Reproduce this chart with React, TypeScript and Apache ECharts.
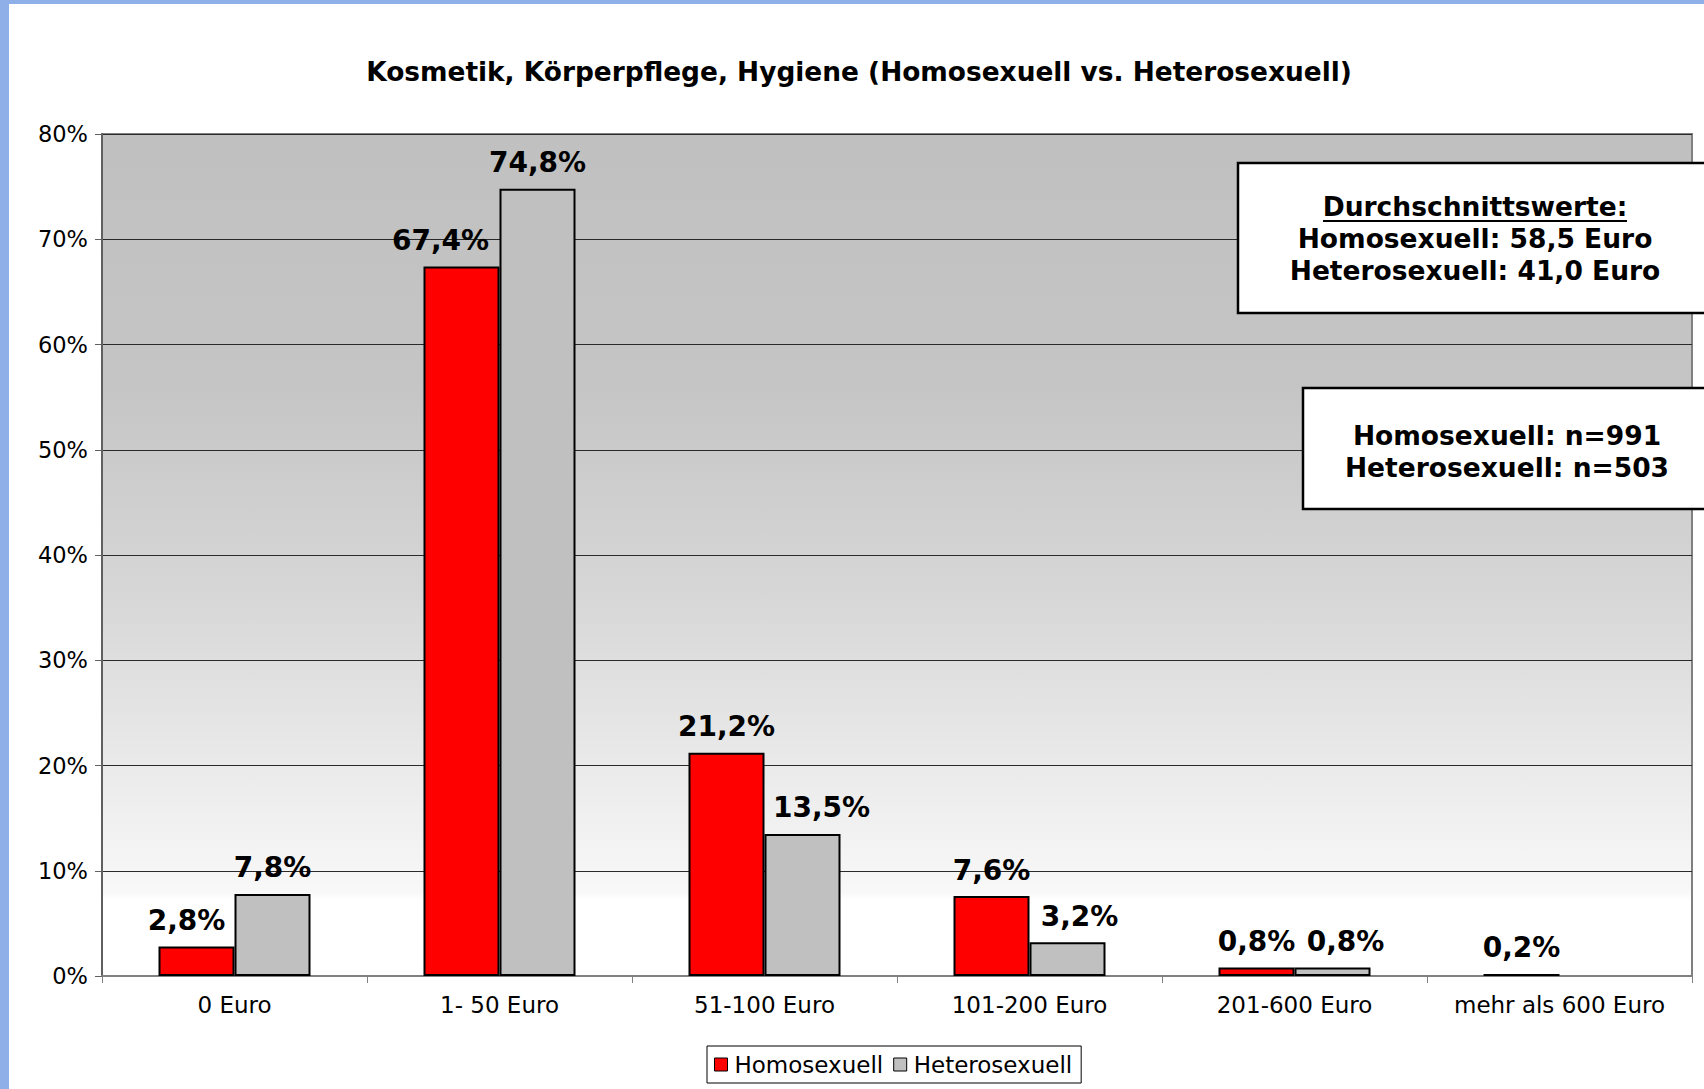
import React, { useEffect, useRef } from "react";
import * as echarts from "echarts";

const categories = ["0 Euro", "1- 50 Euro", "51-100 Euro", "101-200 Euro", "201-600 Euro", "mehr als 600 Euro"];
const homoValues: (number | null)[] = [2.8, 67.4, 21.2, 7.6, 0.8, 0.2];
const heteroValues: (number | null)[] = [7.8, 74.8, 13.5, 3.2, 0.8, null];
const seriesNames = ["Homosexuell", "Heterosexuell"];
const titleText = "Kosmetik, Körperpflege, Hygiene (Homosexuell vs. Heterosexuell)";
const avgLines = ["Durchschnittswerte:", "Homosexuell: 58,5 Euro", "Heterosexuell: 41,0 Euro"];
const nLines = ["Homosexuell: n=991", "Heterosexuell: n=503"];

const FONT = "'DejaVu Sans', Verdana, sans-serif";

const fmt = (v: number) => v.toFixed(1).replace(".", ",") + "%";

// horizontal nudges of data labels (as in the original, to avoid overlaps)
const homoLabelShift = [-10, -21, 0, 0, 0, 0];
const heteroLabelShift = [0, 0, 19, 12, 13, 0];

export default function App() {
  const ref = useRef<HTMLDivElement>(null);
  useEffect(() => {
    if (!ref.current) return;
    const chart = echarts.init(ref.current, undefined, { renderer: "svg" });
    const labelStyle = {
      show: true,
      position: "top" as const,
      distance: 12,
      fontFamily: FONT,
      fontWeight: "bold" as const,
      fontSize: 28,
      color: "#000",
      formatter: (p: any) => (p.value == null ? "" : fmt(p.value)),
    };
    const homoData = homoValues.map((v, i) => ({ value: v, label: { offset: [homoLabelShift[i], 0] } }));
    const heteroData = heteroValues.map((v, i) => ({ value: v, label: { offset: [heteroLabelShift[i], 0] } }));
    const option: any = {
      animation: false,
      backgroundColor: "#ffffff",
      textStyle: { fontFamily: FONT },
      title: {
        text: titleText,
        left: 854,
        textAlign: "center",
        top: 53,
        textStyle: { fontFamily: FONT, fontWeight: "bold", fontSize: 26.4, color: "#000" },
      },
      grid: {
        left: 102,
        right: 12,
        top: 134,
        bottom: 113,
        show: true,
        borderColor: "#808080",
        borderWidth: 2,
        backgroundColor: new echarts.graphic.LinearGradient(0, 0, 0, 1, [
          { offset: 0, color: "#c0c0c0" },
          { offset: 0.3, color: "#c5c5c5" },
          { offset: 0.55, color: "#d7d7d7" },
          { offset: 0.75, color: "#eaeaea" },
          { offset: 0.9, color: "#f8f8f8" },
          { offset: 0.91, color: "#ffffff" },
          { offset: 1, color: "#ffffff" },
        ]),
      },
      legend: {
        data: seriesNames,
        left: 707,
        top: 1046,
        borderColor: "#000",
        borderWidth: 1,
        padding: [7, 9, 7, 7],
        itemGap: 10,
        itemWidth: 13,
        itemHeight: 13,
        icon: "rect",
        itemStyle: { borderColor: "#000", borderWidth: 1 },
        textStyle: { fontFamily: FONT, fontSize: 23, color: "#000", padding: [0, 0, 0, 2] },
      },
      xAxis: {
        type: "category",
        data: categories,
        axisLine: { show: true, lineStyle: { color: "#808080", width: 2 } },
        axisTick: { show: true, interval: 0, length: 7, lineStyle: { color: "#808080", width: 1 } },
        axisLabel: { interval: 0, hideOverlap: false, fontFamily: FONT, fontSize: 23, color: "#000", margin: 17 },
        splitLine: { show: false },
      },
      yAxis: {
        type: "value",
        min: 0,
        max: 80,
        interval: 10,
        axisLine: { show: true, lineStyle: { color: "#606060", width: 2 } },
        axisTick: { show: true, length: 7, lineStyle: { color: "#606060", width: 1 } },
        axisLabel: { fontFamily: FONT, fontSize: 22.5, color: "#000", margin: 14, formatter: "{value}%" },
        splitLine: { show: true, lineStyle: { color: "#2a2a2a", width: 1 } },
      },
      series: [
        {
          name: seriesNames[0],
          type: "bar",
          data: homoData,
          barWidth: 76,
          barGap: "0%",
          itemStyle: { color: "#ff0000", borderColor: "#000", borderWidth: 2 },
          label: labelStyle,
        },
        {
          name: seriesNames[1],
          type: "bar",
          data: heteroData,
          barWidth: 76,
          barGap: "0%",
          itemStyle: { color: "#c0c0c0", borderColor: "#000", borderWidth: 2 },
          label: labelStyle,
        },
      ],
      graphic: [
        { type: "rect", shape: { x: 0, y: 0, width: 9, height: 1089 }, style: { fill: "#8fafe8" }, z: 100 },
        { type: "rect", shape: { x: 0, y: 0, width: 1704, height: 4 }, style: { fill: "#8fafe8" }, z: 100 },
        {
          type: "rect",
          shape: { x: 1238, y: 163, width: 480, height: 150 },
          style: { fill: "#ffffff", stroke: "#000", lineWidth: 2.5 },
          z: 50,
        },
        ...avgLines.map((t, i) => ({
          type: "text",
          x: 1475,
          y: 206 + i * 32,
          z: 51,
          style: {
            text: t,
            fill: "#000",
            font: `bold 26.5px ${FONT}`,
            textAlign: "center",
            textVerticalAlign: "middle",
          },
        })),
        { type: "line", shape: { x1: 1323, y1: 221, x2: 1627, y2: 221 }, style: { stroke: "#000", lineWidth: 2 }, z: 51 },
        {
          type: "rect",
          shape: { x: 1303, y: 388, width: 420, height: 121 },
          style: { fill: "#ffffff", stroke: "#000", lineWidth: 2.5 },
          z: 50,
        },
        ...nLines.map((t, i) => ({
          type: "text",
          x: 1507,
          y: 435 + i * 32,
          z: 51,
          style: {
            text: t,
            fill: "#000",
            font: `bold 26.5px ${FONT}`,
            textAlign: "center",
            textVerticalAlign: "middle",
          },
        })),
      ],
    };
    chart.setOption(option);
    return () => chart.dispose();
  }, []);
  return (
    <div
      ref={ref}
      style={{ position: "fixed", left: 0, top: 0, width: 1704, height: 1089, background: "#fff" }}
    />
  );
}
